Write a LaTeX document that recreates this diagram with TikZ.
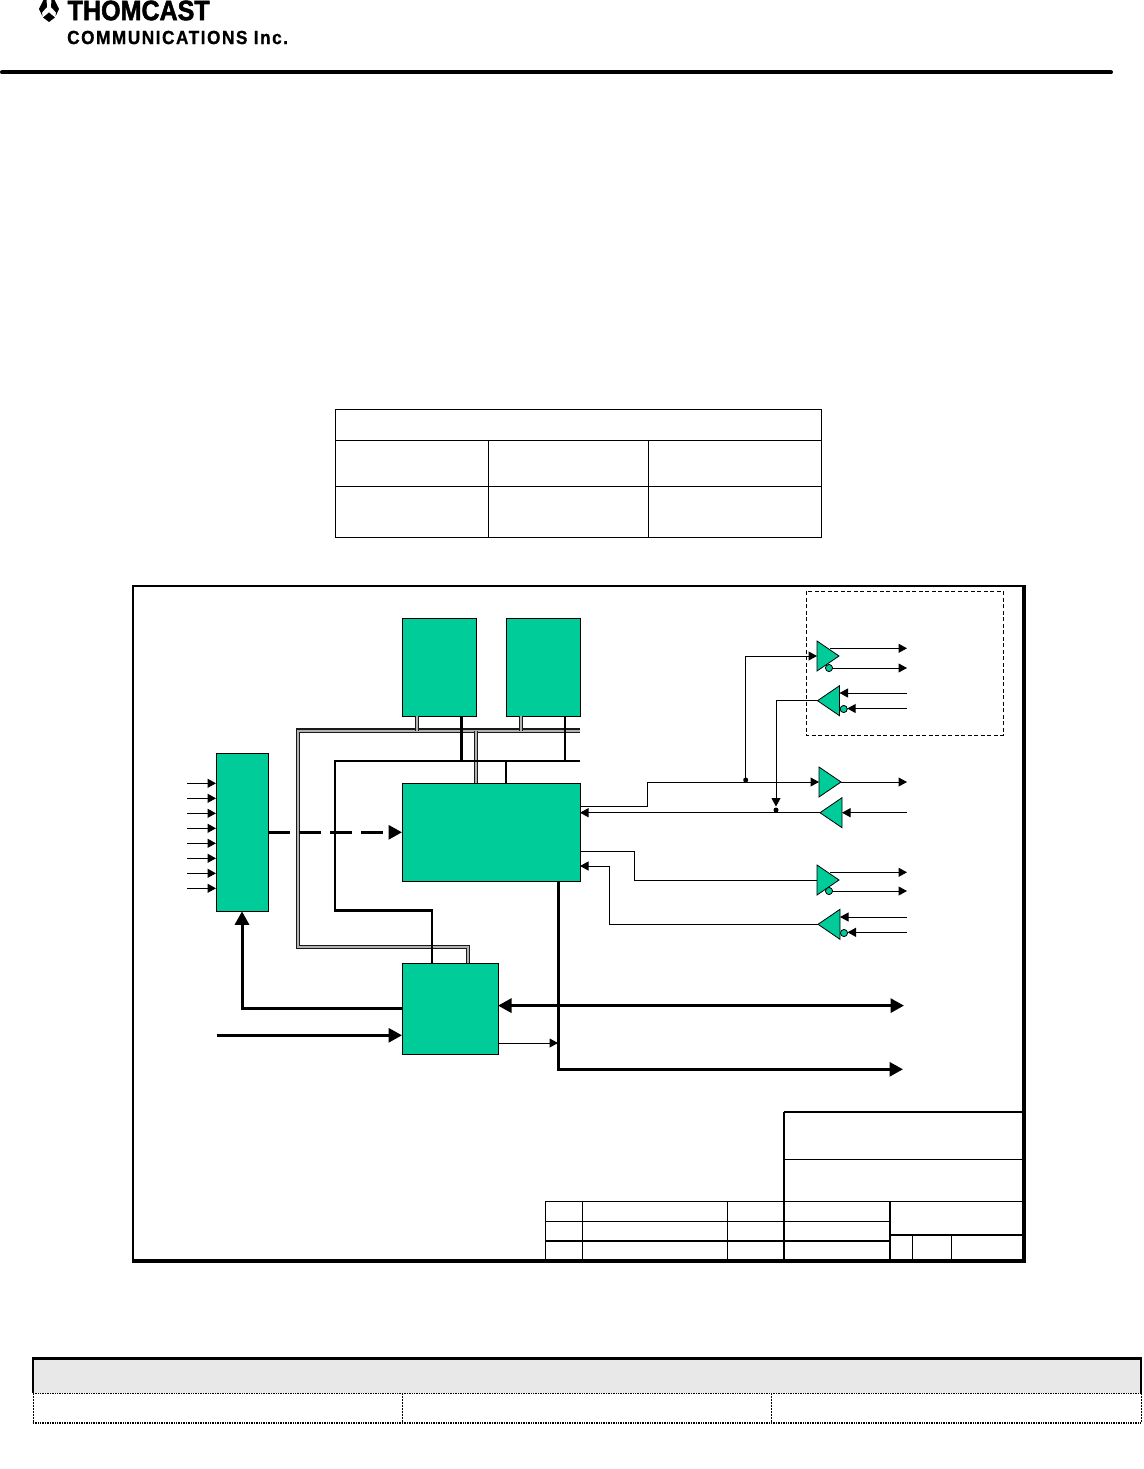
\documentclass[tikz,border=0pt]{standalone}
\usepackage{fontspec}
\setmainfont{Liberation Sans}
\usetikzlibrary{arrows.meta,shapes.geometric}
\definecolor{blockgreen}{RGB}{0,204,153}
\begin{document}
\begin{tikzpicture}[x=1pt,y=-1pt,
  block/.style={draw,fill=blockgreen,line width=.9pt,inner sep=0pt,outer sep=0pt},
  bufr/.style={draw,fill=blockgreen,line width=.8pt,isosceles triangle,isosceles triangle stretches,inner sep=0pt,outer sep=0pt,minimum width=30pt,minimum height=22pt,anchor=apex},
  bufl/.style={bufr,shape border rotate=180},
  bubble/.style={draw,fill=blockgreen,circle,line width=.7pt,inner sep=0pt,outer sep=0pt,minimum size=7pt},
  wire/.style={line width=1pt},
  wirearrow/.style={wire,-{Triangle[length=8.5pt,width=9pt]}},
  heavy/.style={line width=3pt},
  heavyarrow/.style={heavy,-{Triangle[length=13.5pt,width=14pt]}},
  heavyboth/.style={heavy,{Triangle[length=13.5pt,width=14pt]}-{Triangle[length=13.5pt,width=14pt]}},
  bus/.style={draw=black!90,line width=1.2pt,double=black!30,double distance=2pt},
  thinrule/.style={line width=1pt}]
\useasboundingbox (0,0) rectangle (1143,1469);
\coordinate (LA) at (39,9); \coordinate (LB) at (43.5,0); \coordinate (LC) at (54.5,0); \coordinate (LD) at (59,9); \coordinate (LE) at (55,17.5); \coordinate (LF) at (49,22); \coordinate (LG) at (43,17.5); \coordinate (LH) at (49,12.5);
\fill (LA)--(LB)--(46.5,0)--(47,7)--(42,12.5)--(42.5,16.5)--cycle;
\fill (LD)--(LC)--(51.5,0)--(51,7)--(56,12.5)--(55.5,16.5)--cycle;
\fill (LF)--(LG)--(LH)--(LE)--cycle;
\node[anchor=west,inner sep=0pt,font=\bfseries\fontsize{28}{28}\selectfont] (brand) at (67.5,10.5) {\addfontfeatures{FakeBold=2}\scalebox{.895}[1]{THOMCAST}};
\node[anchor=west,inner sep=0pt,font=\bfseries\fontsize{19}{19}\selectfont] (company) at (67,37.5) {\addfontfeatures{LetterSpace=9,FakeBold=1}\scalebox{.905}[1]{COMMUNICATIONS Inc.}};
\draw[line width=4pt,line cap=round] (2,72.5)--(1111,72.5);

\draw[thinrule] (335,409) rectangle (821,537);
\draw[thinrule] (335,440)--(821,440); \draw[thinrule] (335,486)--(821,486);
\draw[thinrule] (488,440)--(488,537); \draw[thinrule] (648,440)--(648,537);

\draw[line width=2pt] (1024,586)--(133,586)--(133,1261);
\draw[line width=4pt] (1024,585)--(1024,1263); \draw[line width=4pt] (132,1261)--(1026,1261);
\draw[dashed,line width=1pt,dash pattern=on 4pt off 2.5pt] (806,591) rectangle (1003,735);

\node[block,minimum width=74pt,minimum height=98pt] (ram1) at (439,667) {};
\node[block,minimum width=74pt,minimum height=98pt] (ram2) at (543,667) {};
\node[block,minimum width=178pt,minimum height=98pt] (cpu) at (491,832.3) {};
\node[block,minimum width=52pt,minimum height=158pt] (mux) at (242,832.3) {};
\node[block,minimum width=96pt,minimum height=91pt] (ctrl) at (450,1008.5) {};

\node[bufr] (drvA) at (839,656) {};
\node[bufl] (rcvA) at (817.5,700.7) {};
\node[bufr] (drvB) at (841,782) {};
\node[bufl] (rcvB) at (820,812.7) {};
\node[bufr] (drvC) at (839,880) {};
\node[bufl] (rcvC) at (818,924.3) {};
\node[bubble] (bubA) at (829,668) {};
\node[bubble] (bubB) at (843.7,709) {};
\node[bubble] (bubC) at (829,891) {};
\node[bubble] (bubD) at (844,933) {};

\coordinate (aTL) at (298,730.5); \coordinate (aTR) at (580,730.5); \coordinate (aBL) at (298,947); \coordinate (aBR) at (468,947);
\coordinate (aR1) at (417,730.5); \coordinate (aR2) at (521,730.5); \coordinate (aC) at (476,730.5);
\coordinate (dTL) at (335,761); \coordinate (dTR) at (580,761); \coordinate (dBL) at (335,910.5); \coordinate (dBR) at (432,910.5);
\coordinate (dR1) at (461.5,761); \coordinate (dR2) at (565,761); \coordinate (dC) at (506,761);
\draw[bus] (aTR)--(aTL)--(aBL)--(aBR)--(aBR |- ctrl.north);
\draw[bus] (aR1 |- ram1.south)--(aR1);
\draw[bus] (aR2 |- ram2.south)--(aR2);
\draw[bus] (aC)--(aC |- cpu.north);
\draw[line width=2.3pt] (dTR)--(dTL)--(dBL)--(dBR)--(dBR |- ctrl.north);
\draw[line width=2.3pt] (dR1 |- ram1.south)--(dR1);
\draw[line width=2.3pt] (dR2 |- ram2.south)--(dR2);
\draw[line width=1.7pt] (dC)--(dC |- cpu.north);

\foreach \i/\y in {1/783.3,2/798.3,3/813.3,4/828.3,5/843.3,6/858.3,7/873.3,8/888.3}{
  \coordinate (in\i) at (187,\y);
  \draw[wirearrow] (in\i)--(in\i -| mux.west);
}
\draw[heavyarrow,dashed,dash pattern=on 22pt off 9pt] (mux.east)--(cpu.west);
\coordinate (muxB) at (242,1008.3);
\draw[heavyarrow] (muxB -| ctrl.west)--(muxB)--(mux.south);
\coordinate (ctlI) at (217,1035.3);
\draw[heavyarrow] (ctlI)--(ctlI -| ctrl.west);
\coordinate (busE) at (904,1005.6);
\draw[heavyboth] (busE -| ctrl.east)--(busE);
\coordinate (outS) at (558,881); \coordinate (outC) at (558,1069.3); \coordinate (outE) at (903,1069.3);
\draw[heavyarrow] (outS)--(outC)--(outE);
\coordinate (ctlO) at (498,1043); \coordinate (ctlT) at (558,1043);
\draw[wirearrow] (ctlO)--(ctlT);

\coordinate (txA) at (580,806); \coordinate (txB) at (647,806); \coordinate (txC) at (647,782);
\draw[wire] (txA)--(txB)--(txC);
\draw[wirearrow] (txC)--(drvB.lower side);
\coordinate (tapA) at (745.7,780); \coordinate (tapB) at (745.7,656);
\fill (tapA) circle (2.5pt);
\draw[wirearrow] (tapA)--(tapB)--(drvA.lower side);
\coordinate (rxA) at (776,700.7); \coordinate (rxB) at (776,806.5); \coordinate (rxT) at (776,810);
\fill (rxT) circle (2.5pt);
\draw[wire] (rcvA.apex)--(rxA);
\draw[wirearrow] (rxA)--(rxB);
\draw[wirearrow] (rcvB.apex)--(rcvB.apex -| cpu.east);
\coordinate (txD) at (580,851); \coordinate (txE) at (634,851); \coordinate (txF) at (634,880);
\draw[wire] (txD)--(txE)--(txF)--(drvC.lower side);
\coordinate (rxC) at (609,924.3); \coordinate (rxD) at (609,866);
\draw[wirearrow] (rcvC.apex)--(rxC)--(rxD)--(rxD -| cpu.east);

\coordinate (oA) at (830,648.3); \coordinate (oB) at (907,648.3); \coordinate (oC) at (907,668); \coordinate (iA) at (907,693); \coordinate (iB) at (907,708.5);
\draw[wirearrow] (oA)--(oB); \draw[wirearrow] (bubA)--(oC);
\draw[wirearrow] (iA)--(iA -| rcvA.lower side); \draw[wirearrow] (iB)--(iB -| bubB.east);
\coordinate (oD) at (907,782); \coordinate (iC) at (907,812.7);
\draw[wirearrow] (drvB.apex)--(oD); \draw[wirearrow] (iC)--(rcvB.lower side);
\coordinate (oE) at (830,872.3); \coordinate (oF) at (907,872.3); \coordinate (oG) at (907,891); \coordinate (iD) at (907,917); \coordinate (iE) at (907,932.3);
\draw[wirearrow] (oE)--(oF); \draw[wirearrow] (bubC)--(oG);
\draw[wirearrow] (iD)--(iD -| rcvC.lower side); \draw[wirearrow] (iE)--(iE -| bubD.east);
\node[bubble] at (bubA) {}; \node[bubble] at (bubB) {}; \node[bubble] at (bubC) {}; \node[bubble] at (bubD) {};

\draw[line width=1.5pt] (784,1112)--(1022,1112); \draw[line width=2pt] (784,1112)--(784,1260);
\draw[thinrule] (784,1159)--(1022,1159);
\draw[thinrule] (545,1201)--(1022,1201); \draw[thinrule] (545,1221)--(890,1221);
\draw[line width=2pt] (545,1241)--(890,1241);
\draw[thinrule] (545,1201)--(545,1260); \draw[thinrule] (582,1201)--(582,1260); \draw[thinrule] (727,1201)--(727,1260);
\draw[line width=2pt] (890,1201)--(890,1260); \draw[line width=2pt] (890,1235)--(1022,1235);
\draw[thinrule] (912,1235)--(912,1260); \draw[thinrule] (951,1235)--(951,1260);

\fill[black!9] (33,1358) rectangle (1141,1393);
\draw[line width=2pt] (33,1393)--(33,1358)--(1141,1358)--(1141,1393);
\draw[line width=3pt] (32,1358.5)--(1142,1358.5);
\draw[line width=1.2pt,dash pattern=on 1pt off .7pt] (33,1393.5)--(1141,1393.5);
\draw[line width=1.2pt,dash pattern=on 1pt off .7pt] (33,1423)--(1141,1423);
\foreach \x in {33,402,771,1141}{\draw[line width=.8pt,dash pattern=on 1.5pt off 1.5pt] (\x,1393)--(\x,1423);}
\end{tikzpicture}
\end{document}
